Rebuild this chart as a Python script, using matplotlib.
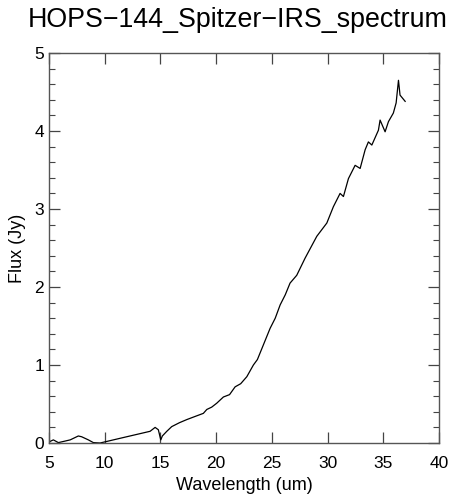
import numpy as np
import matplotlib.pyplot as plt
from matplotlib.ticker import MultipleLocator

# spectrum
wavelength = [5.09, 5.39, 5.84, 6.3, 6.9, 7.63, 7.93, 8.53, 8.98, 9.58, 10.18,
              11.67, 13.17, 14.07, 14.52, 14.81, 15.03, 15.17, 15.57, 16.01,
              16.7, 17.36, 18.1, 18.85, 19.16, 19.6, 20.05, 20.65, 21.2, 21.7,
              22.2, 22.75, 23.34, 23.7, 24.1, 24.84, 25.3, 25.74, 26.2, 26.63,
              27.23, 27.98, 28.28, 29.03, 29.93, 30.52, 31.12, 31.42, 31.87,
              32.47, 32.92, 33.37, 33.66, 33.97, 34.56, 34.71, 35.16, 35.46,
              35.9, 36.15, 36.36, 36.5, 36.96]
flux = [0.02, 0.04, 0.005, 0.02, 0.04, 0.09, 0.08, 0.04, 0.005, 0.0, 0.02,
        0.07, 0.12, 0.15, 0.2, 0.17, 0.04, 0.09, 0.15, 0.21,
        0.26, 0.3, 0.34, 0.38, 0.43, 0.46, 0.51, 0.59, 0.62, 0.72,
        0.76, 0.85, 1.0, 1.07, 1.21, 1.47, 1.6, 1.77, 1.9, 2.05,
        2.15, 2.37, 2.45, 2.65, 2.82, 3.03, 3.2, 3.16, 3.39,
        3.56, 3.52, 3.76, 3.86, 3.82, 4.01, 4.14, 3.99, 4.12,
        4.23, 4.36, 4.65, 4.46, 4.38]

plt.rcParams['font.family'] = ['Liberation Sans', 'DejaVu Sans']

fig = plt.figure(figsize=(4.59, 5.0), dpi=100)
ax = fig.add_axes([0.1068, 0.114, 0.8497, 0.78])
ax.plot(wavelength, flux, color='black', linewidth=0.9)

ax.set_xlim(5, 40)
ax.set_ylim(0, 5)
ax.xaxis.set_major_locator(MultipleLocator(5))
ax.yaxis.set_major_locator(MultipleLocator(1))
ax.yaxis.set_minor_locator(MultipleLocator(0.2))
ax.tick_params(which='both', direction='in', top=True, right=True,
               color='#444444', labelsize=12.5)
ax.tick_params(which='major', length=8, width=0.9)
ax.tick_params(which='minor', length=4, width=0.8)
ax.tick_params(axis='x', pad=9)
for s in ax.spines.values():
    s.set_color('#555555')
    s.set_linewidth(1.0)

ax.set_xlabel('Wavelength (um)', fontsize=13, labelpad=5)
ax.set_ylabel('Flux (Jy)', fontsize=13, labelpad=6)
ax.set_title('HOPS\u2212144_Spitzer\u2212IRS_spectrum', fontsize=19.3, pad=19, x=0.484)

fig.savefig('out.png', dpi=100)
